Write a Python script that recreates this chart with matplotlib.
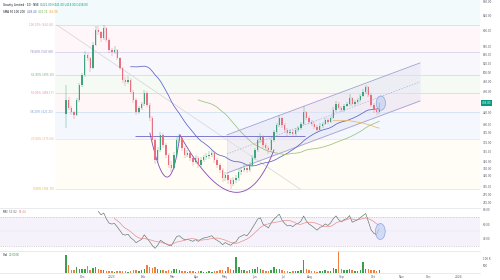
import numpy as np
import pandas as pd
import matplotlib
matplotlib.use("Agg")
import matplotlib.pyplot as plt
import matplotlib.transforms as mtransforms
from matplotlib.ticker import FixedLocator, NullLocator

first_open = 418
closes = [444, 429, 421, 416, 444, 473, 494, 539, 532, 510,
          563, 601, 596, 580, 606, 575, 551, 546, 551, 532,
          510, 484, 479, 484, 460, 444, 421, 429, 436, 458,
          435, 411, 373, 342, 357, 381, 365, 350, 335, 330,
          350, 373, 377, 361, 350, 353, 345, 339, 345, 335,
          342, 346, 348, 350, 353, 342, 335, 328, 316, 321,
          314, 309, 314, 316, 325, 328, 331, 328, 335, 345,
          357, 373, 378, 365, 361, 357, 373, 386, 398, 411,
          398, 390, 384, 386, 383, 390, 393, 400, 421, 411,
          404, 400, 395, 390, 397, 400, 407, 404, 411, 425,
          436, 429, 425, 433, 436, 448, 436, 440, 444, 452,
          460, 469, 454, 435, 425, 421, 438]
highs = [473, 450, 432, 424, 448, 478, 500, 548, 545, 535,
         570, 612, 612, 600, 614.65, 610, 580, 556, 560, 555,
         535, 512, 490, 492, 488, 464, 447, 433, 441, 464,
         461, 438, 414, 376, 362, 386, 384, 368, 353, 340,
         354, 378, 383, 380, 364, 358, 356, 348, 350, 348,
         347, 350, 353, 356, 358, 356, 345, 338, 330, 325,
         324, 316, 318, 320, 329, 332, 336, 334, 339, 349,
         361, 378, 384, 381, 369, 364, 377, 390, 402, 416,
         413, 401, 393, 391, 389, 394, 397, 404, 432, 424,
         414, 407, 403, 398, 401, 404, 411, 410, 415, 430,
         442, 440, 432, 437, 441, 455, 450, 444, 448, 456,
         465, 474, 471, 457, 438, 428, 441]
lows = [394, 425, 416, 409, 414, 440, 470, 490, 525, 502,
        508, 560, 588, 572, 577, 570, 545, 538, 542, 528,
        505, 478, 472, 475, 455, 438, 416, 417, 425, 432,
        430, 405, 368, 336, 338, 354, 360, 345, 330, 325,
        327, 347, 368, 356, 345, 346, 340, 334, 336, 331,
        332, 339, 342, 344, 347, 338, 331, 323, 311, 313,
        309, 301.7, 306, 310, 313, 321, 325, 323, 325, 332,
        342, 354, 369, 360, 357, 352, 355, 370, 383, 395,
        394, 386, 380, 381, 379, 380, 387, 390, 398, 407,
        400, 396, 391, 386, 388, 394, 398, 400, 401, 409,
        422, 425, 421, 422, 430, 433, 432, 432, 437, 441,
        449, 456, 450, 430, 420, 416, 418]
volumes = [128, 57, 22, 18, 43, 25, 30, 28, 50, 20,
           35, 40, 25, 18, 22, 15, 14, 12, 10, 12,
           14, 16, 12, 10, 14, 18, 20, 15, 18, 30,
           57, 45, 35, 40, 30, 22, 18, 15, 20, 16,
           25, 28, 20, 14, 12, 10, 12, 14, 10, 12,
           14, 10, 9, 12, 10, 12, 15, 18, 22, 16,
           40, 25, 20, 114, 45, 22, 18, 15, 20, 28,
           30, 43, 25, 18, 15, 14, 22, 43, 30, 28,
           20, 15, 12, 10, 12, 14, 16, 22, 93, 30,
           18, 14, 12, 10, 12, 14, 18, 12, 16, 36,
           28, 160, 30, 20, 18, 25, 20, 15, 14, 18,
           79, 30, 25, 22, 18, 16, 20]  # thousands

month_labels = ['Dec', '2023', 'Feb', 'Mar', 'Apr', 'May', 'Jun', 'Jul',
                'Aug', 'Sep', 'Oct', 'Nov', 'Dec', '2024']
month_pos = [6.3, 17.0, 28.5, 39.3, 48.5, 58.9, 70.0, 80.4,
             90.4, 102.2, 113.7, 124.4, 134.1, 145.2]

price_ticks = [680, 640, 600, 560, 540, 520, 500, 480, 460, 420, 400,
               385, 370, 355, 340, 330, 320, 305, 295, 285]

fib_low, fib_high = 301.70, 614.65
fib_levels = [1.0, 0.786, 0.618, 0.5, 0.382, 0.236, 0.0]
fib_line_colors = ['#f1d3da', '#d6d1ec', '#cde7d0', '#f6d0d6', '#d2e1f3', '#f9e3cf', '#f4eba8']
fib_text_colors = ['#e596a8', '#8d86bd', '#74b07a', '#ea8d9e', '#7f9fd0', '#f0ad80', '#e0b43a']
fib_fills = ['#fef6f8', '#f8f7fc', '#f5faf5', '#fef6f7', '#f4f8fe', '#fffdf5']

# drawing anchors (bar index, price)
fib_x0, fib_x1 = -4.0, 86.7
neck_x0, neck_x1, neck_price = 25.6, 88.5, 379.0
small_cup = [(31.1, 384.6), (37.4, 317.8), (42.2, 381.5)]
big_cup = [(42.2, 381.5), (61.9, 297.8), (77.0, 357.4)]
chan_x0, chan_x1 = 59.6, 131.1
chan_upper = (381.5, 521.4)
chan_lower = (323.4, 442.1)

GREEN, RED = '#3fa37d', '#e8707f'
VGREEN, VRED = '#3d9e4f', '#f08040'
AXC = '#5d606b'

c = np.array(closes, float)
o = np.array([first_open] + closes[:-1], float)
h = np.maximum(np.array(highs, float), np.maximum(o, c))
l = np.minimum(np.array(lows, float), np.minimum(o, c))
x = np.arange(len(c))
up = c >= o
cols = np.where(up, GREEN, RED)


def rsi(values, n):
    d = np.diff(values)
    gain = np.where(d > 0, d, 0.0)
    loss = np.where(d < 0, -d, 0.0)
    out = np.full(len(values), np.nan)
    ag, al = gain[:n].mean(), loss[:n].mean()
    out[n] = 100 - 100 / (1 + ag / al)
    for k in range(n, len(d)):
        ag = (ag * (n - 1) + gain[k]) / n
        al = (al * (n - 1) + loss[k]) / n
        out[k + 1] = 100 - 100 / (1 + ag / al)
    return out


def arc(p0, pm, p2, n=80):
    (x0, y0), (xm, ym), (x2, y2) = [(a, np.log(b)) for a, b in (p0, pm, p2)]
    cx, cy = 2 * xm - (x0 + x2) / 2, 2 * ym - (y0 + y2) / 2
    t = np.linspace(0, 1, n)
    xs = (1 - t) ** 2 * x0 + 2 * (1 - t) * t * cx + t ** 2 * x2
    ys = (1 - t) ** 2 * y0 + 2 * (1 - t) * t * cy + t ** 2 * y2
    return xs, np.exp(ys)


fig = plt.figure(figsize=(5, 2.8), dpi=100)
W = 480 / 500
ax = fig.add_axes([0, 1 - 208 / 280, W, 208 / 280])
ax_rsi = fig.add_axes([0, 1 - 251 / 280, W, 43 / 280], sharex=ax)
ax_vol = fig.add_axes([0, 1 - 273 / 280, W, 22 / 280], sharex=ax)

ax.set_yscale('log')
ax.set_xlim(-24.4, 153.3)
ax.set_ylim(277.9, 685)

# Fibonacci retracement bands
xr = 153.3
prices = [fib_low + f * (fib_high - fib_low) for f in fib_levels]
ax.fill_between([fib_x0, xr], prices[0], 685, color='#f3fafb', lw=0, zorder=0)
for k in range(len(prices) - 1):
    ax.fill_between([fib_x0, xr], prices[k + 1], prices[k], color=fib_fills[k], lw=0, zorder=0)
for f, p, lc, tc in zip(fib_levels, prices, fib_line_colors, fib_text_colors):
    ax.hlines(p, fib_x0, xr, color=lc, lw=0.6, zorder=1)
    ax.text(fib_x0 - 0.6, p, f'{f * 100:.2f}% ({p:.2f})', ha='right', va='center',
            fontsize=2, color=tc)
ax.plot([fib_x0 + 0.6, fib_x1], [fib_high, fib_low], color='#d4d4d4', lw=0.5, zorder=1)

# parallel channel
mid = tuple(np.sqrt(np.array(chan_upper) * np.array(chan_lower)))
ax.fill_between([chan_x0, chan_x1], chan_lower, chan_upper, color='#e2e0f2', alpha=0.45, lw=0, zorder=1)
ax.plot([chan_x0, chan_x1], chan_upper, color='#a3a0d3', lw=0.6, zorder=2)
ax.plot([chan_x0, chan_x1], chan_lower, color='#a3a0d3', lw=0.6, zorder=2)
ax.plot([chan_x0, chan_x1], mid, color='#aeabd8', lw=0.5, ls=(0, (2, 2)), zorder=2)
ax.vlines(chan_x0, chan_lower[0], chan_upper[0], color='#dddbee', lw=0.4, zorder=1)

# moving averages
s = pd.Series(c)
sma_fast = s.rolling(25).mean()
sma_mid = s.rolling(50).mean()
sma_slow = s.rolling(100).mean()
ax.plot(x, sma_fast, color='#5a62c8', lw=0.55, zorder=3)
ax.plot(x, sma_mid, color='#9cc27a', lw=0.55, zorder=3)
ax.plot(x, sma_slow, color='#ecb766', lw=0.55, zorder=3)

# neckline and cups
ax.hlines(neck_price, neck_x0, neck_x1, color='#6e63c6', lw=0.6, zorder=3)
for cup in (small_cup, big_cup):
    ax.plot(*arc(*cup), color='#8447b8', lw=0.6, zorder=3)

# candles
ax.vlines(x, l, h, color=cols, lw=0.3, zorder=4)
ax.bar(x, np.maximum(np.abs(c - o), 0.4), bottom=np.minimum(o, c), width=0.5,
       color=cols, lw=0, zorder=5)

# highlight on last candle
t = np.linspace(0, 2 * np.pi, 60)
ex, ey = 116.6 + 1.7 * np.cos(t), np.exp(np.log(c[-1]) + 0.031 * np.sin(t))
ax.fill(ex, ey, fc='#c4d2f1', ec='#6b88d8', lw=0.5, alpha=0.7, zorder=6)

ax.yaxis.tick_right()
ax.yaxis.set_major_locator(FixedLocator(price_ticks))
ax.yaxis.set_minor_locator(NullLocator())
ax.set_yticklabels([f'{v:.2f}' for v in price_ticks])
ax.tick_params(axis='y', length=0, labelsize=2, pad=2, colors=AXC)
ax.tick_params(axis='x', length=0, labelbottom=False)
blend = mtransforms.blended_transform_factory(ax.transAxes, ax.transData)
ax.text(1.004, c[-1], f'{c[-1]:.2f}', transform=blend, ha='left', va='center',
        fontsize=2, color='white',
        bbox=dict(boxstyle='square,pad=0.35', fc='#089981', ec='none'))

# RSI pane
r = rsi(c, 12)
r_ma = pd.Series(r).rolling(7).mean()
ax_rsi.set_ylim(23.1, 82.4)
ax_rsi.axhspan(30, 70, color='#f5f2fc', lw=0, zorder=0)
ax_rsi.axhline(70, color='#b0b0be', lw=0.4, ls=(0, (2, 2)))
ax_rsi.axhline(30, color='#b0b0be', lw=0.4, ls=(0, (2, 2)))
ax_rsi.axhline(50, color='#c8c8d2', lw=0.3, ls=(0, (1, 2)))
ax_rsi.plot(x, r, color='#5e7466', lw=0.45)
ax_rsi.plot(x, r_ma, color='#e8857f', lw=0.45)
ex2, ey2 = 116.4 + 1.8 * np.cos(t), 50 + 11 * np.sin(t)
ax_rsi.fill(ex2, ey2, fc='#c4d2f1', ec='#6b88d8', lw=0.5, alpha=0.7, zorder=6)
ax_rsi.yaxis.tick_right()
ax_rsi.set_yticks([80, 60, 40])
ax_rsi.set_yticklabels(['80.00', '60.00', '40.00'])
ax_rsi.tick_params(axis='y', length=0, labelsize=2, pad=2, colors=AXC)
ax_rsi.tick_params(axis='x', length=0, labelbottom=False)

# volume pane
ax_vol.bar(x, volumes, width=0.55, color=np.where(up, VGREEN, VRED), lw=0)
ax_vol.set_ylim(0, 157)
ax_vol.yaxis.tick_right()
ax_vol.set_yticks([100, 50])
ax_vol.set_yticklabels(['100 K', '50K'])
ax_vol.tick_params(axis='y', length=0, labelsize=2, pad=2, colors=AXC)
ax_vol.set_xticks(month_pos)
ax_vol.set_xticklabels(month_labels)
ax_vol.tick_params(axis='x', length=0, labelsize=2.2, pad=1.2, colors=AXC)

for a in (ax, ax_rsi, ax_vol):
    for sp in a.spines.values():
        sp.set_visible(False)
for a in (ax_rsi, ax_vol):
    a.spines['top'].set_visible(True)
    a.spines['top'].set_color('#e0e3eb')
    a.spines['top'].set_linewidth(0.5)
ax_vol.spines['bottom'].set_visible(True)
ax_vol.spines['bottom'].set_color('#e0e3eb')
ax_vol.spines['bottom'].set_linewidth(0.5)

# legend lines
renderer = fig.canvas.get_renderer()


def text_run(x0, y_px, parts, size=2):
    xf = x0 / 500
    for txt, col in parts:
        tt = fig.text(xf, 1 - y_px / 280, txt, color=col, fontsize=size, va='center')
        xf += tt.get_window_extent(renderer=renderer).width / fig.bbox.width


text_run(3, 5, [('Gravity Limited · 1D · NSE  ', '#131722'),
                (f'O{o[-1]:.2f} H{h[-1]:.2f} L{l[-1]:.2f} C{c[-1]:.2f}', '#089981')])
text_run(3, 12, [('SMA 50 100 200  ', '#131722'),
                 (f'{sma_fast.iloc[-1]:.2f}  ', '#5a62c8'),
                 (f'{sma_mid.iloc[-1]:.2f}  ', '#7fae5a'),
                 (f'{sma_slow.iloc[-1]:.2f}', '#e0a040')])
text_run(3, 212, [('RSI  ', '#131722'), (f'{r[-1]:.2f}  ', '#5e7466'),
                  (f'{r_ma.iloc[-1]:.2f}', '#e8857f')])
text_run(3, 255, [('Vol  ', '#131722'), (f'{volumes[-1]:.3f}K', VGREEN)])

fig.savefig('out.png', dpi=100)
